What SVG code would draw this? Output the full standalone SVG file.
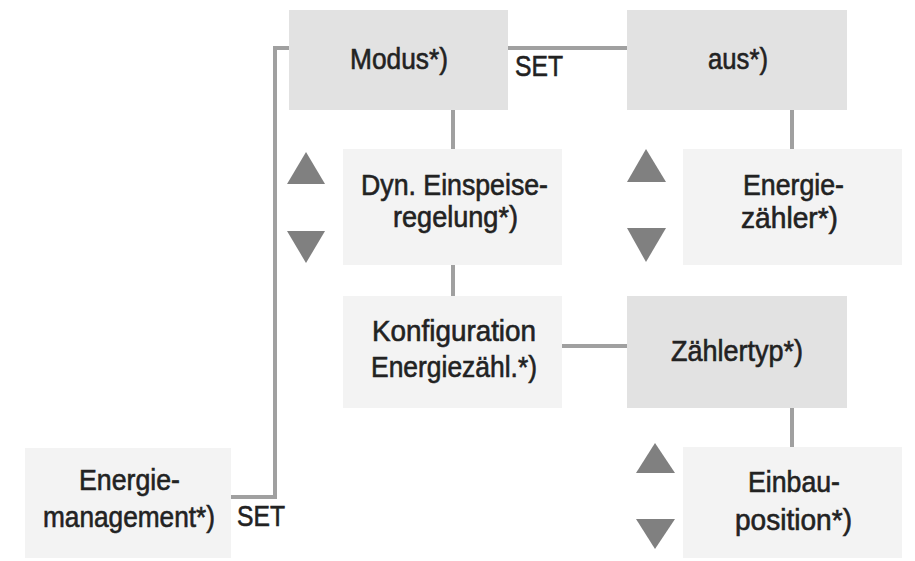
<svg xmlns="http://www.w3.org/2000/svg" width="915" height="561" viewBox="0 0 915 561">
<style>
.dark{fill:#e2e2e2}
.light{fill:#f3f3f3}
.t{font-family:"Liberation Sans",Arial,sans-serif;font-size:29px;fill:#222;stroke:#222;stroke-width:0.6;text-anchor:middle}
.s{text-anchor:start}
.c{fill:none;stroke:#a0a0a0;stroke-width:4}
.tri{fill:#808080}
</style>
<rect width="915" height="561" fill="#fff"/>
<g id="connectors">
<polyline class="c" points="289,48 275,48 275,497 231,497"/>
<line class="c" x1="508" y1="48" x2="627" y2="48"/>
<line class="c" x1="453" y1="110" x2="453" y2="149"/>
<line class="c" x1="453" y1="265" x2="453" y2="296"/>
<line class="c" x1="792" y1="110" x2="792" y2="149"/>
<line class="c" x1="562" y1="346" x2="627" y2="346"/>
<line class="c" x1="792" y1="408" x2="792" y2="447"/>
<text class="t s" x="515" y="76" textLength="48" lengthAdjust="spacingAndGlyphs">SET</text>
<text class="t s" x="237" y="526" textLength="48" lengthAdjust="spacingAndGlyphs">SET</text>
</g>
<g id="arrows">
<polygon class="tri" points="306,152 325,184 287,184"/>
<polygon class="tri" points="287,231 325,231 306,263"/>
<polygon class="tri" points="646,149 666,182 627,182"/>
<polygon class="tri" points="627,228 666,228 646,262"/>
<polygon class="tri" points="655,443 675,473 636,473"/>
<polygon class="tri" points="636,519 675,519 655,549"/>
</g>
<g id="modus">
<rect class="dark" x="289" y="10" width="219" height="100"/>
<text class="t" x="399" y="69" textLength="98" lengthAdjust="spacingAndGlyphs">Modus*)</text>
</g>
<g id="aus">
<rect class="dark" x="627" y="10" width="220" height="100"/>
<text class="t" x="738" y="69" textLength="60" lengthAdjust="spacingAndGlyphs">aus*)</text>
</g>
<g id="dyn">
<rect class="light" x="343" y="149" width="219" height="116"/>
<text class="t" x="454.5" y="195" textLength="187" lengthAdjust="spacingAndGlyphs">Dyn. Einspeise-</text>
<text class="t" x="455.5" y="227" textLength="125" lengthAdjust="spacingAndGlyphs">regelung*)</text>
</g>
<g id="energiezaehler">
<rect class="light" x="683" y="149" width="219" height="116"/>
<text class="t" x="793.5" y="195" textLength="101" lengthAdjust="spacingAndGlyphs">Energie-</text>
<text class="t" x="789.5" y="228" textLength="97" lengthAdjust="spacingAndGlyphs">zähler*)</text>
</g>
<g id="konfig">
<rect class="light" x="343" y="296" width="219" height="112"/>
<text class="t" x="454" y="341" textLength="164" lengthAdjust="spacingAndGlyphs">Konfiguration</text>
<text class="t" x="454" y="377" textLength="166" lengthAdjust="spacingAndGlyphs">Energiezähl.*)</text>
</g>
<g id="zaehlertyp">
<rect class="dark" x="627" y="296" width="220" height="112"/>
<text class="t" x="737" y="361" textLength="132" lengthAdjust="spacingAndGlyphs">Zählertyp*)</text>
</g>
<g id="einbau">
<rect class="light" x="683" y="447" width="219" height="111"/>
<text class="t" x="794" y="492" textLength="92" lengthAdjust="spacingAndGlyphs">Einbau-</text>
<text class="t" x="793.5" y="530" textLength="117" lengthAdjust="spacingAndGlyphs">position*)</text>
</g>
<g id="energiemanagement">
<rect class="light" x="25" y="448" width="206" height="110"/>
<text class="t" x="129.5" y="490" textLength="101" lengthAdjust="spacingAndGlyphs">Energie-</text>
<text class="t" x="129" y="527" textLength="172" lengthAdjust="spacingAndGlyphs">management*)</text>
</g>
</svg>
